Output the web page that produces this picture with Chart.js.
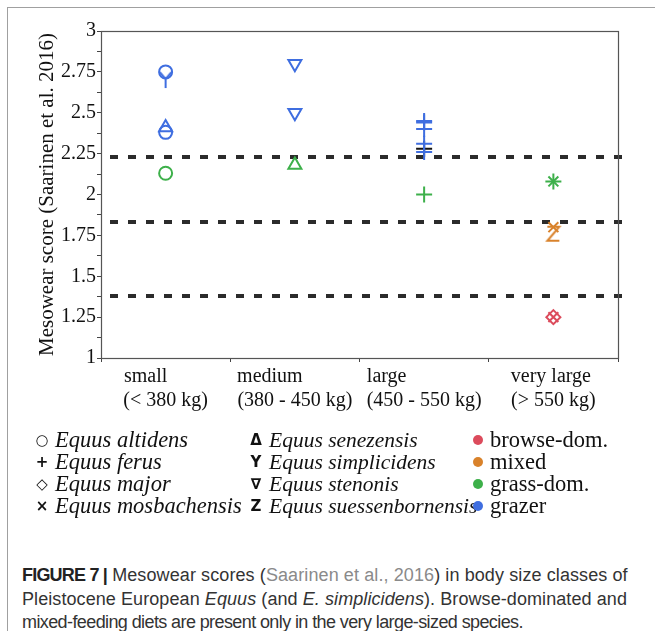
<!DOCTYPE html>
<html>
<head>
<meta charset="utf-8">
<script src="https://cdn.jsdelivr.net/npm/chart.js@4.4.1/dist/chart.umd.min.js"></script>
<style>
  body { margin: 0; background: #fff; width: 655px; height: 631px; overflow: hidden; position: relative; }
  .frame { position: absolute; left: 7px; top: 7px; width: 700px; height: 700px; border-left: 1px solid #a0a0a0; border-top: 1px solid #a0a0a0; }
  #wrap { position: absolute; left: 0; top: 0; width: 655px; height: 420px; }
  #legend { position: absolute; left: 0; top: 420px; }
  .caption { position: absolute; left: 22px; top: 564px; font-family: "Liberation Sans", Arial, sans-serif; font-size: 18px; line-height: 23.5px; color: #333; white-space: nowrap; }
  .caption b { color: #222; letter-spacing: -0.8px; }
  .caption .ref { color: #8a8a8a; }
</style>
</head>
<body>
<div class="frame"></div>
<div id="wrap"><canvas id="chart" width="655" height="420"></canvas></div>
<canvas id="legend" width="655" height="110"></canvas>
<div class="caption">
  <span style="letter-spacing:0.1px"><b>FIGURE 7 |</b> Mesowear scores (<span class="ref">Saarinen et al., 2016</span>) in body size classes of</span><br>
  <span style="letter-spacing:0.08px">Pleistocene European <i>Equus</i> (and <i>E. simplicidens</i>). Browse-dominated and</span><br>
  <span style="letter-spacing:-0.6px">mixed-feeding diets are present only in the very large-sized species.</span>
</div>
<script>
// body size classes on the x axis
const sizeClasses = ['small', 'medium', 'large', 'very large'];
const sizeRanges = ['(< 380 kg)', '(380 - 450 kg)', '(450 - 550 kg)', '(> 550 kg)'];

const species = ['Equus altidens', 'Equus ferus', 'Equus major', 'Equus mosbachensis',
  'Equus senezensis', 'Equus simplicidens', 'Equus stenonis', 'Equus suessenbornensis'];
const diets = ['browse-dom.', 'mixed', 'grass-dom.', 'grazer'];

// one entry per sample: size class, species, diet, mesowear score
const obsClass   = ['small', 'small', 'small', 'small', 'small',
  'medium', 'medium', 'medium',
  'large', 'large', 'large', 'large', 'large', 'large', 'large',
  'very large', 'very large', 'very large', 'very large', 'very large', 'very large'];
const obsSpecies = ['Equus altidens', 'Equus simplicidens', 'Equus senezensis', 'Equus altidens', 'Equus altidens',
  'Equus stenonis', 'Equus stenonis', 'Equus senezensis',
  'Equus ferus', 'Equus ferus', 'Equus ferus', 'Equus ferus', 'Equus ferus', 'Equus ferus', 'Equus ferus',
  'Equus mosbachensis', 'Equus ferus', 'Equus mosbachensis', 'Equus suessenbornensis', 'Equus major', 'Equus mosbachensis'];
const obsDiet    = ['grazer', 'grazer', 'grazer', 'grazer', 'grass-dom.',
  'grazer', 'grazer', 'grass-dom.',
  'grazer', 'grazer', 'grazer', 'grazer', 'grazer', '', 'grass-dom.',
  'grass-dom.', 'grass-dom.', 'mixed', 'mixed', 'browse-dom.', 'browse-dom.'];
const obsScore   = [2.75, 2.70, 2.41, 2.38, 2.13,
  2.80, 2.50, 2.18,
  2.45, 2.44, 2.40, 2.31, 2.26, 2.28, 2.00,
  2.08, 2.08, 1.80, 1.76, 1.25, 1.25];

// dashed boundaries between diet classes
const dietBounds = [2.23, 1.83, 1.38];

const yMin = 1, yMax = 3, yStep = 0.125;

const dietColors = { 'browse-dom.': '#dc4b5c', 'mixed': '#d9822b', 'grass-dom.': '#3db04a', 'grazer': '#3f6ee0' };
const otherColor = '#111';
const serif = 'Liberation Serif';

// small canvases for the letter-shaped markers
function glyph(kind, color) {
  const c = document.createElement('canvas');
  c.width = 18; c.height = 18;
  const g = c.getContext('2d');
  g.strokeStyle = color; g.lineWidth = 2; g.lineCap = 'butt';
  g.beginPath();
  if (kind === 'Y') {
    g.moveTo(3, 1); g.lineTo(9, 8); g.lineTo(15, 1);
    g.moveTo(9, 8); g.lineTo(9, 17);
  } else {
    g.moveTo(3, 2); g.lineTo(15, 2); g.lineTo(3, 16); g.lineTo(15, 16);
  }
  g.stroke();
  return c;
}

function markerFor(sp, color) {
  switch (sp) {
    case 'Equus altidens': return { pointStyle: 'circle', pointRadius: 6.5 };
    case 'Equus ferus': return { pointStyle: 'cross', pointRadius: 8 };
    case 'Equus major': return { pointStyle: 'rectRot', pointRadius: 7 };
    case 'Equus mosbachensis': return { pointStyle: 'crossRot', pointRadius: 7 };
    case 'Equus senezensis': return { pointStyle: 'triangle', pointRadius: 7.5 };
    case 'Equus simplicidens': return { pointStyle: glyph('Y', color), pointRadius: 9 };
    case 'Equus stenonis': return { pointStyle: 'triangle', pointRadius: 7.5, rotation: 180 };
    default: return { pointStyle: glyph('Z', color), pointRadius: 9 };
  }
}

// group samples into one dataset per species and diet
const groups = {};
obsScore.forEach((score, i) => {
  const key = obsSpecies[i] + '|' + obsDiet[i];
  if (!groups[key]) groups[key] = { sp: obsSpecies[i], diet: obsDiet[i], data: [] };
  groups[key].data.push({ x: obsClass[i], y: score });
});

const datasets = Object.values(groups).map(gr => {
  const color = dietColors[gr.diet] || otherColor;
  const m = markerFor(gr.sp, color);
  return {
    label: gr.sp + ' (' + (gr.diet || 'n/a') + ')',
    data: gr.data,
    borderColor: color,
    backgroundColor: 'rgba(0,0,0,0)',
    pointStyle: m.pointStyle,
    pointRadius: m.pointRadius,
    pointRotation: m.rotation || 0,
    pointBorderWidth: 2,
    pointHoverRadius: m.pointRadius
  };
});

// two-line x labels, the shorter line padded so both lines start at the same x
const measure = document.createElement('canvas').getContext('2d');
measure.font = '20px ' + serif;
function xLabel(i) {
  let a = sizeClasses[i], b = sizeRanges[i];
  const sp = measure.measureText(' ').width;
  const wa = measure.measureText(a).width, wb = measure.measureText(b).width;
  if (wa < wb) a += ' '.repeat(Math.round((wb - wa) / sp));
  else b += ' '.repeat(Math.round((wa - wb) / sp));
  return [a, b];
}

const boxAndBounds = {
  id: 'boxAndBounds',
  beforeDatasetsDraw(chart) {
    const { ctx, chartArea: a, scales: { y } } = chart;
    ctx.save();
    ctx.strokeStyle = '#2b2b2b';
    ctx.lineWidth = 4;
    ctx.setLineDash([8, 10]);
    dietBounds.forEach(v => {
      const py = Math.round(y.getPixelForValue(v));
      ctx.beginPath();
      ctx.moveTo(a.left + 9, py);
      ctx.lineTo(a.right + 4, py);
      ctx.stroke();
    });
    ctx.restore();
  },
  afterDraw(chart) {
    const { ctx, chartArea: a } = chart;
    ctx.save();
    ctx.strokeStyle = '#555';
    ctx.lineWidth = 1.2;
    ctx.strokeRect(a.left + 0.5, a.top + 0.5, a.right - a.left, a.bottom - a.top);
    ctx.restore();
  }
};

new Chart(document.getElementById('chart'), {
  type: 'scatter',
  data: { datasets },
  plugins: [boxAndBounds],
  options: {
    responsive: false,
    animation: false,
    layout: { padding: { top: 31, right: 37, left: 0, bottom: 0 } },
    plugins: { legend: { display: false }, tooltip: { enabled: false } },
    scales: {
      x: {
        type: 'category',
        labels: sizeClasses,
        offset: true,
        border: { display: false },
        grid: { offset: true, drawOnChartArea: false, tickLength: 4, color: '#444' },
        ticks: {
          autoSkip: false, maxRotation: 0, padding: 3, color: '#111',
          font: { family: serif, size: 20 },
          callback: (v, i) => xLabel(i)
        },
        afterFit: s => { s.height = 62; }
      },
      y: {
        min: yMin, max: yMax,
        border: { display: false },
        grid: { drawOnChartArea: false, tickLength: 4, color: '#444' },
        ticks: {
          stepSize: yStep, autoSkip: false, padding: 1, color: '#111',
          font: { family: serif, size: 20 },
          callback: v => (Math.abs(v * 4 - Math.round(v * 4)) < 1e-6 ? String(v) : '')
        },
        title: {
          display: true, text: 'Mesowear score (Saarinen et al. 2016)', color: '#111',
          font: { family: serif, size: 21 }, padding: { top: 35, bottom: 0 }
        },
        afterFit: s => { s.width = 101; }
      }
    }
  }
});

// legend: species markers (two columns) and diet colours
const legendSyms = ['○', '+', '◇', '×', 'Δ', 'Y', '∇', 'Z'];
const lg = document.getElementById('legend').getContext('2d');
const rowBase = [27, 49, 71, 93];
lg.textBaseline = 'alphabetic';
species.forEach((sp, i) => {
  const col = i < 4 ? 0 : 1;
  const row = i % 4;
  const symX = col === 0 ? 42 : 256;
  lg.fillStyle = '#111';
  lg.font = 'bold 15px DejaVu Sans';
  lg.textAlign = 'center';
  lg.fillText(legendSyms[i], symX, rowBase[row] - 2);
  lg.font = 'italic ' + (col === 0 ? 22.5 : 21.5) + 'px ' + serif;
  lg.textAlign = 'left';
  lg.fillText(sp, symX + 13, rowBase[row]);
});
diets.forEach((d, i) => {
  lg.fillStyle = dietColors[d];
  lg.beginPath();
  lg.arc(478, rowBase[i] - 7, 5, 0, Math.PI * 2);
  lg.fill();
  lg.fillStyle = '#111';
  lg.font = '22.5px ' + serif;
  lg.textAlign = 'left';
  lg.fillText(d, 490, rowBase[i]);
});
</script>
</body>
</html>
